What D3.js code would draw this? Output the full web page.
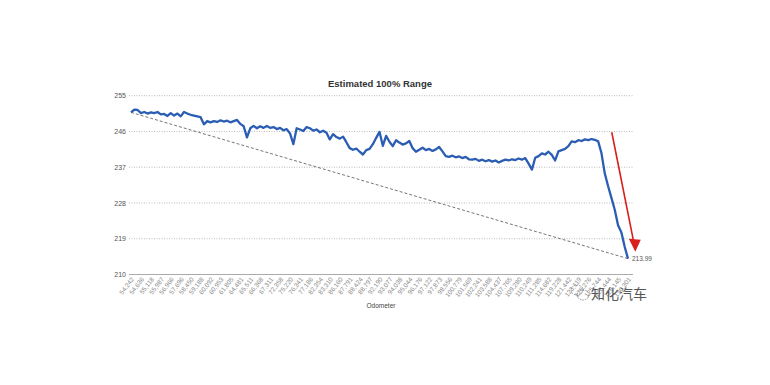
<!DOCTYPE html>
<html>
<head>
<meta charset="utf-8">
<script src="https://cdn.jsdelivr.net/npm/d3@7"></script>
<style>
  body { margin: 0; background: #fff; }
  svg { font-family: "Liberation Sans", Arial, sans-serif; }
</style>
</head>
<body>
<div id="chart"></div>
<script>
// chart values
var title = "Estimated 100% Range";
var xTitle = "Odometer";
var yTicks = [210, 219, 228, 237, 246, 255];

// odometer labels, one for every 3rd reading
var odoLabels = [54242, 54636, 55118, 55987, 56966, 57696, 58450, 59188, 60092, 60953,
  61805, 64481, 65511, 66368, 67311, 72358, 75220, 76341, 77186, 82354,
  83310, 86160, 87791, 88424, 88797, 92190, 93077, 94038, 95044, 96176,
  97122, 97873, 98556, 100779, 101569, 102241, 103588, 104437, 107765, 109280,
  110249, 111285, 114682, 119228, 121442, 123119, 125276, 125744, 126444, 128145,
  130301];
var labelStep = 3;

// estimated 100% range readings
var range = [250.8, 251.5, 251.4, 250.6, 250.9, 250.5, 250.8, 250.6, 250.9, 250.3,
  250.4, 249.9, 250.6, 250.0, 250.5, 249.8, 250.9, 250.5, 250.2, 250.0,
  249.8, 249.6, 247.8, 248.6, 248.3, 248.6, 248.4, 248.8, 248.5, 248.7,
  248.3, 248.6, 248.9, 247.9, 247.3, 244.5, 246.8, 247.4, 246.8, 247.3,
  246.9, 247.4, 246.9, 247.1, 246.6, 246.9, 246.3, 246.6, 245.5, 242.8,
  246.8, 246.5, 246.1, 247.1, 246.8, 246.2, 246.5, 245.8, 246.2, 245.7,
  244.0, 245.3, 244.6, 244.2, 244.7, 243.3, 241.8, 241.4, 241.7, 240.9,
  240.2, 241.3, 241.6, 242.8, 244.4, 245.9, 242.4, 244.9, 243.4, 242.3,
  243.8, 243.2, 242.7, 243.0, 243.6, 241.8, 240.9, 241.4, 241.9, 241.3,
  241.6, 241.1, 241.5, 242.1, 241.0, 239.8, 239.6, 239.9, 239.5, 239.7,
  239.3, 239.6, 239.0, 238.9, 239.1, 238.6, 238.9, 238.5, 238.8, 238.4,
  238.7, 238.2, 238.6, 238.9, 238.7, 239.0, 238.8, 239.2, 238.9, 239.3,
  237.9, 236.4, 239.4, 239.8, 240.5, 240.2, 240.9, 240.1, 238.7, 241.0,
  241.3, 241.6, 242.3, 243.5, 243.3, 243.8, 243.6, 244.0, 243.8, 244.1,
  243.9, 243.5, 240.5, 235.4, 232.2, 229.3, 226.3, 222.4, 220.6, 217.0,
  213.99];

// red annotation arrow, in data units (reading index, range)
var arrowFrom = [145.1, 245.8];
var arrowTo = [152.2, 216.2];

var w = 770, h = 385;

var svg = d3.select("#chart").append("svg")
  .attr("width", w)
  .attr("height", h);

var x = d3.scaleLinear().domain([0, range.length - 1]).range([131, 628]);
var y = d3.scaleLinear().domain([210, 255]).range([274.5, 95.7]);

// title
svg.append("text")
  .attr("x", 380).attr("y", 87)
  .attr("text-anchor", "middle")
  .attr("font-size", 9.5)
  .attr("font-weight", "bold")
  .attr("fill", "#333")
  .text(title);

// grid lines
svg.append("g").selectAll("line")
  .data(yTicks.slice(1))
  .join("line")
  .attr("x1", 129).attr("x2", 633)
  .attr("y1", d => y(d)).attr("y2", d => y(d))
  .attr("stroke", "#aaa")
  .attr("stroke-width", 0.8)
  .attr("stroke-dasharray", "1,1.5");

// y axis labels
var yAxis = svg.append("g")
  .attr("transform", "translate(129,0)")
  .call(d3.axisLeft(y).tickValues(yTicks).tickSize(0).tickPadding(3));
yAxis.select(".domain").remove();
yAxis.selectAll("text")
  .attr("font-size", 7)
  .attr("fill", "#555")
  .attr("font-family", "Liberation Sans, Arial, sans-serif");

// x axis with rotated odometer labels
var tickIdx = odoLabels.map((d, i) => i * labelStep);
var xAxis = svg.append("g")
  .attr("transform", "translate(0," + y(210) + ")")
  .call(d3.axisBottom(x).tickValues(tickIdx).tickSize(0)
    .tickFormat((d, i) => d3.format(",")(odoLabels[i])));
xAxis.select(".domain")
  .attr("d", "M129,0H633")
  .attr("stroke", "#aaa");
xAxis.selectAll("text")
  .attr("font-size", 6.4)
  .attr("fill", "#888")
  .attr("font-family", "Liberation Sans, Arial, sans-serif")
  .attr("text-anchor", "end")
  .attr("dy", null)
  .attr("y", 0)
  .attr("transform", "translate(3,5) rotate(-52)");

svg.append("text")
  .attr("x", 381).attr("y", 308)
  .attr("text-anchor", "middle")
  .attr("font-size", 6.5)
  .attr("fill", "#444")
  .text(xTitle);

// dashed trend line first -> last reading
var last = range.length - 1;
svg.append("line")
  .attr("x1", x(0)).attr("y1", y(range[0]))
  .attr("x2", x(last)).attr("y2", y(range[last]))
  .attr("stroke", "#666")
  .attr("stroke-width", 0.9)
  .attr("stroke-dasharray", "3,2");

// range line
var line = d3.line()
  .x((d, i) => x(i))
  .y(d => y(d));

svg.append("path")
  .datum(range)
  .attr("d", line)
  .attr("fill", "none")
  .attr("stroke", "#2a5db3")
  .attr("stroke-width", 2.3)
  .attr("stroke-linejoin", "round");

svg.append("text")
  .attr("x", x(last) + 4).attr("y", y(range[last]) + 2.5)
  .attr("font-size", 6.5)
  .attr("fill", "#555")
  .text(d3.format(".2f")(range[last]));

// red arrow
svg.append("line")
  .attr("x1", x(arrowFrom[0])).attr("y1", y(arrowFrom[1]))
  .attr("x2", x(arrowTo[0])).attr("y2", y(arrowTo[1]))
  .attr("stroke", "#d8201c")
  .attr("stroke-width", 1.6);

svg.append("path")
  .attr("d", function() {
    var x0 = x(arrowTo[0]), y0 = y(arrowTo[1]);
    return "M" + (x0 - 6.5) + "," + (y0 - 11) + "L" + (x0 + 5.5) + "," + (y0 - 10) + "L" + x0 + "," + (y0 + 2) + "Z";
  })
  .attr("fill", "#d8201c");

// watermark
var wm = svg.append("g").attr("fill", "none").attr("stroke", "#777").attr("stroke-width", 0.8);
wm.append("ellipse").attr("cx", 577).attr("cy", 290).attr("rx", 6).attr("ry", 5)
  .attr("stroke-dasharray", "1.5,1");
wm.append("ellipse").attr("cx", 583).attr("cy", 295).attr("rx", 6).attr("ry", 5)
  .attr("stroke-dasharray", "1.5,1");

svg.append("text")
  .attr("x", 591).attr("y", 299)
  .attr("font-family", "Noto Sans CJK SC")
  .attr("font-size", 14)
  .attr("fill", "#555")
  .text("知化汽车");
</script>
</body>
</html>
